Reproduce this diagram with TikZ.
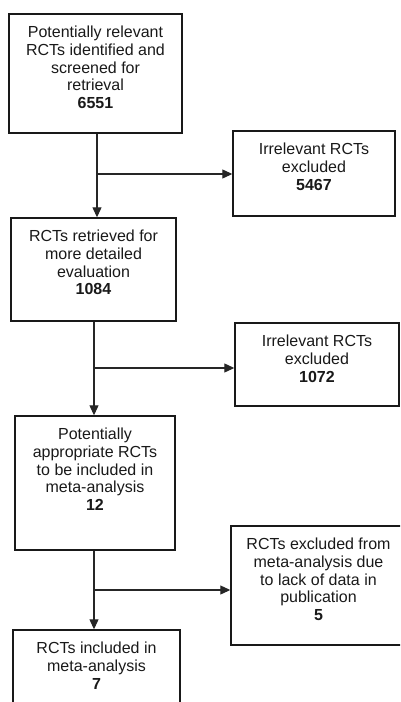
\documentclass[tikz,border=0pt]{standalone}
\usepackage{fontspec}
\setmainfont{Liberation Sans}
\usetikzlibrary{arrows.meta}
\begin{document}
\begin{tikzpicture}[x=1pt,y=-1pt,
  box/.style={draw=black!90, line width=1.4pt, rectangle, inner sep=0pt},
  txt/.style={align=center, inner sep=0pt, anchor=north, font=\fontsize{16}{17.7}\selectfont, text=black!90},
  conn/.style={draw=black!85, line width=1.1pt},
  arr/.style={conn, -{Triangle[length=10pt,width=9pt]}}]
\useasboundingbox (0,0) rectangle (400,702);
\clip (0,0) rectangle (400,702);
% boxes
\node[box, minimum width=173pt, minimum height=119pt] (b1) at (95.5,73.5) {};
\node[box, minimum width=162pt, minimum height=85pt]  (b2) at (314,173.5) {};
\node[box, minimum width=165pt, minimum height=103pt] (b3) at (93.5,269.5) {};
\node[box, minimum width=164pt, minimum height=83pt]  (b4) at (317,364.5) {};
\node[box, minimum width=160pt, minimum height=134pt] (b5) at (95,483) {};
\node[box, minimum width=175pt, minimum height=119pt] (b6) at (318.5,585.5) {};
\node[box, minimum width=167pt, minimum height=90pt]  (b7) at (96.5,675) {};
% texts
\node[txt] (t1) at ([yshift=-12pt]b1.north) {\strut Potentially relevant\\RCTs identified and\\screened for\\retrieval\\\textbf{6551}};
\node[txt] (t2) at ([yshift=-12pt]b2.north) {\strut Irrelevant RCTs\\excluded\\\textbf{5467}};
\node[txt] (t3) at ([yshift=-12pt]b3.north) {\strut RCTs retrieved for\\more detailed\\evaluation\\\textbf{1084}};
\node[txt] (t4) at ([yshift=-12pt]b4.north) {\strut Irrelevant RCTs\\excluded\\\textbf{1072}};
\node[txt] (t5) at ([yshift=-12pt]b5.north) {\strut Potentially\\appropriate RCTs\\to be included in\\meta-analysis\\\textbf{12}};
\node[txt] (t6) at ([yshift=-12pt]b6.north) {\strut RCTs excluded from\\meta-analysis due\\to lack of data in\\publication\\\textbf{5}};
\node[txt] (t7) at ([yshift=-12pt]b7.north) {\strut RCTs included in\\meta-analysis\\\textbf{7}};
% junctions
\coordinate (j1) at (97,174);
\coordinate (j2) at (94,368);
\coordinate (j3) at (94,590);
% connectors
\draw[conn] (b1.south -| j1) -- (j1);
\draw[arr] (j1) -- (j1 |- b3.north);
\draw[arr] (j1) -- (j1 -| b2.west);
\draw[conn] (b3.south -| j2) -- (j2);
\draw[arr] (j2) -- (j2 |- b5.north);
\draw[arr] (j2) -- (j2 -| b4.west);
\draw[conn] (b5.south -| j3) -- (j3);
\draw[arr] (j3) -- (j3 |- b7.north);
\draw[arr] (j3) -- (j3 -| b6.west);
\end{tikzpicture}
\end{document}
